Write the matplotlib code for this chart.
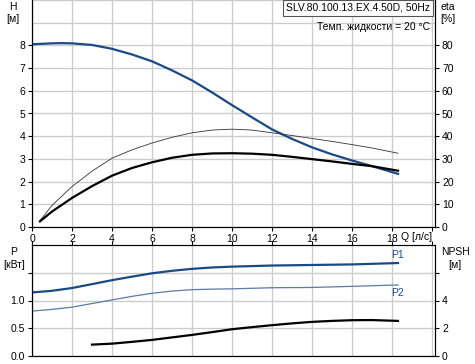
import numpy as np
import matplotlib
matplotlib.use("Agg")
import matplotlib.pyplot as plt
from matplotlib.ticker import FixedLocator

plt.rcParams['font.family'] = ['Liberation Sans', 'DejaVu Sans']
plt.rcParams['font.size'] = 7.5

# ---- datos ----
q_h = [0, 1, 1.5, 2, 3, 4, 5, 6, 7, 8, 9, 10, 11, 12, 13, 14, 15, 16, 17, 18.3]
altura = [8.05, 8.09, 8.1, 8.09, 8.02, 7.85, 7.6, 7.3, 6.9, 6.46, 5.93, 5.37,
          4.83, 4.3, 3.88, 3.51, 3.2, 2.93, 2.68, 2.34]

q_eta = [0.4, 1, 2, 3, 4, 5, 6, 7, 8, 9, 10, 11, 12, 13, 14, 15, 16, 17, 18.3]
eta_bomba = [2.8, 9.5, 17.8, 24.6, 30.3, 34, 37, 39.5, 41.5, 42.7, 43.1, 42.7,
             41.5, 40.3, 39, 37.7, 36.3, 34.8, 32.5]
eta_total = [2.5, 6.8, 12.8, 18, 22.6, 26, 28.5, 30.5, 31.8, 32.4, 32.5, 32.3,
             31.8, 30.9, 29.9, 28.9, 27.8, 26.8, 24.8]

q_p = [0, 1, 2, 3, 4, 5, 6, 7, 8, 9, 10, 12, 14, 16, 18.3]
p1 = [1.145, 1.175, 1.225, 1.295, 1.366, 1.43, 1.49, 1.535, 1.57, 1.595, 1.61,
      1.63, 1.64, 1.65, 1.675]
p2 = [0.81, 0.84, 0.88, 0.945, 1.01, 1.075, 1.13, 1.17, 1.195, 1.205, 1.21,
      1.23, 1.235, 1.255, 1.28]

q_npsh = [3, 4, 5, 6, 7, 8, 9, 10, 11, 12, 13, 14, 15, 16, 17, 18.3]
npsh = [0.82, 0.89, 1.02, 1.16, 1.34, 1.52, 1.72, 1.93, 2.08, 2.22, 2.35, 2.46,
        2.53, 2.58, 2.59, 2.53]

q_ticks = list(range(0, 21, 2))
q_labels = [str(v) for v in q_ticks[:-1]] + ['']

W, H = 475, 364
AZUL = '#1a4a86'
GRIS = '#cccccc'


def px(x, y):
    return x / W, 1 - y / H


fig = plt.figure(figsize=(W / 100, H / 100), dpi=100)

# ---- grafico superior ----
ax = fig.add_axes([32 / W, 1 - 227 / H, (435 - 32) / W, 227 / H])
ax.set_xlim(0, 20.15)
ax.set_ylim(0, 10)
ax.xaxis.set_major_locator(FixedLocator(q_ticks))
ax.set_xticklabels(q_labels)
ax.yaxis.set_major_locator(FixedLocator(range(0, 9)))
ax.yaxis.set_minor_locator(FixedLocator([9, 10]))
ax.tick_params(which='minor', length=0)
ax.tick_params(length=3, width=0.8, pad=2)
ax.grid(True, which='both', color=GRIS, lw=1)
ax.set_axisbelow(True)
ax.spines['top'].set_visible(False)
ax.plot(q_h, altura, color=AZUL, lw=1.6)

ax2 = ax.twinx()
ax2.set_ylim(0, 100)
ax2.yaxis.set_major_locator(FixedLocator(range(0, 81, 10)))
ax2.tick_params(length=3, width=0.8, pad=2)
ax2.spines['top'].set_visible(False)
ax2.plot(q_eta, eta_bomba, color='#333333', lw=0.6)
ax2.plot(q_eta, eta_total, color='black', lw=1.6)

fig.text(*px(13, 7), 'H', ha='center', va='center')
fig.text(*px(13, 19), '[м]', ha='center', va='center')
fig.text(*px(448, 7), 'eta', ha='center', va='center')
fig.text(*px(448, 19), '[%]', ha='center', va='center')
fig.text(*px(417, 237), 'Q [л/с]', ha='center', va='center')
fig.text(*px(358, 8), 'SLV.80.100.13.EX.4.50D, 50Hz', ha='center', va='center',
         bbox=dict(boxstyle='square,pad=0.25', fc='white', ec='#555555', lw=0.8))
fig.text(*px(430, 27), 'Темп. жидкости = 20 °C', ha='right', va='center')

# ---- grafico inferior ----
bx = fig.add_axes([32 / W, 1 - 356 / H, (435 - 32) / W, (356 - 245) / H])
bx.set_xlim(0, 20.15)
bx.set_ylim(0, 2)
bx.xaxis.set_major_locator(FixedLocator(q_ticks))
bx.tick_params(axis='x', bottom=False, labelbottom=False, top=True, length=3)
bx.yaxis.set_major_locator(FixedLocator([0, 0.5, 1.0, 1.5]))
bx.set_yticklabels(['0.0', '0.5', '1.0', ''])
bx.tick_params(axis='y', length=3, width=0.8, pad=2)
bx.grid(True, color=GRIS, lw=1)
bx.set_axisbelow(True)
bx.spines['top'].set_color('#444444')
bx.plot(q_p, p1, color=AZUL, lw=1.6)
bx.plot(q_p, p2, color='#5a7aa8', lw=0.9)
bx.text(q_p[-1], p1[-1] + 0.05, 'P1', color=AZUL, ha='center', va='bottom')
bx.text(q_p[-1], p2[-1] - 0.05, 'P2', color=AZUL, ha='center', va='top')

bx2 = bx.twinx()
bx2.set_ylim(0, 8)
bx2.yaxis.set_major_locator(FixedLocator([0, 2, 4, 6]))
bx2.set_yticklabels(['0', '2', '4', ''])
bx2.tick_params(length=3, width=0.8, pad=2)
bx2.plot(q_npsh, npsh, color='black', lw=1.6)

fig.text(*px(14, 252), 'P', ha='center', va='center')
fig.text(*px(14, 265), '[кВт]', ha='center', va='center')
fig.text(*px(455, 252), 'NPSH', ha='center', va='center')
fig.text(*px(455, 265), '[м]', ha='center', va='center')

fig.savefig('out.png', dpi=100)
